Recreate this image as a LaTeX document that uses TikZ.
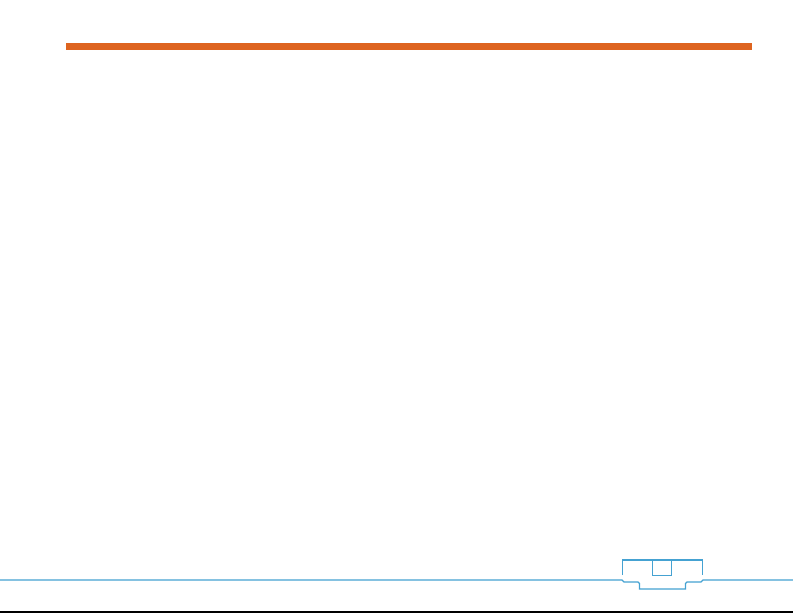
\documentclass[tikz,border=0pt]{standalone}
\definecolor{barorange}{HTML}{DE6420}
\definecolor{lineblue}{HTML}{45A2D2}
\tikzset{
  blueline/.style={draw=lineblue, line width=1.3pt},
  thinblue/.style={draw=lineblue, line width=1pt},
}
\begin{document}
\begin{tikzpicture}[x=1pt,y=-1pt]
\useasboundingbox[fill=white] (0,0) rectangle (793,613);
% orange header bar
\fill[barorange] (66,43) rectangle (752,50);
% bottom blue line with tab
\coordinate (ls) at (0,580);
\coordinate (le) at (793,580);
\draw[blueline] (ls) -- (622,580) -- (624,582) -- (638,582) -- (639.5,583.5) -- (639.5,589) -- (685.5,589) -- (685.5,583.5) -- (687,582) -- (701,582) -- (703,580) -- (le);
% tab outline
\draw[thinblue] (622.5,575) -- (622.5,560);
\draw[blueline] (622,560) -- (702.5,560);
\draw[thinblue] (702,560) -- (702,575);
\draw[thinblue] (652.5,560) rectangle (671.5,575);
% black bottom line
\draw[black, line width=2pt] (0,612) -- (793,612);
\end{tikzpicture}
\end{document}
